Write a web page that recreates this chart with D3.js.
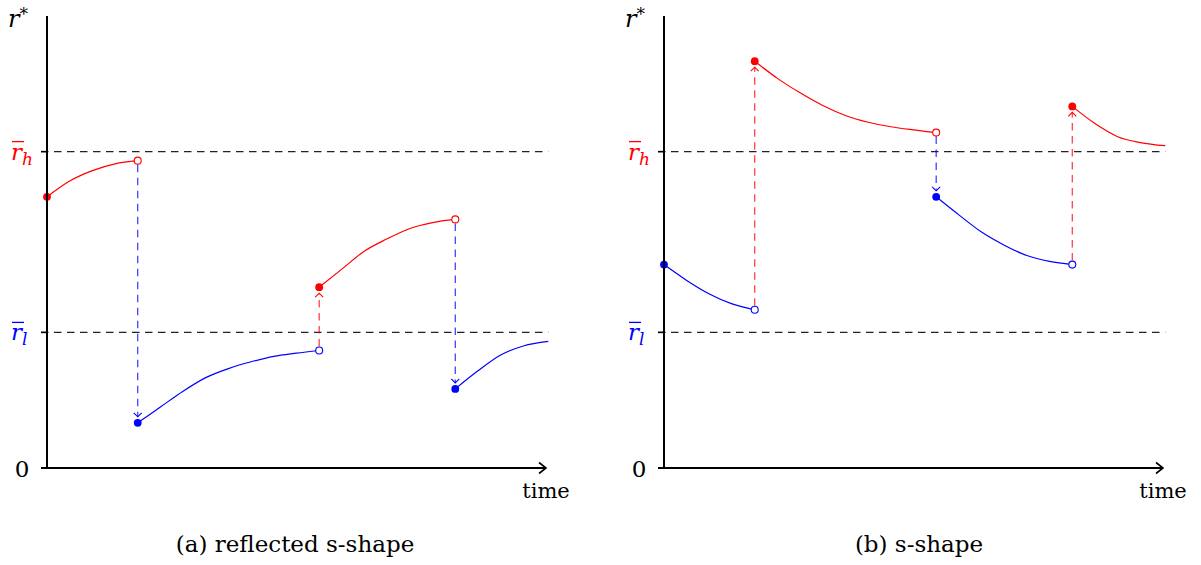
<!DOCTYPE html>
<html><head><meta charset="utf-8">
<script src="https://cdn.jsdelivr.net/npm/d3@7"></script>
<style>
body{margin:0;background:#fff}
</style>
</head><body><svg id="c" width="1201" height="565" style="font-family:'DejaVu Serif','Liberation Serif',serif"></svg>
<script>
// ---- data ----
const timeDomain = [0, 11];
const rDomain = [0, 10];
const thresholdValues = [7, 3];
const thresholdSubs = ['h', 'l'];
const thresholdColors = ['red', 'blue'];
const captions = ['(a) reflected s-shape', '(b) s-shape'];

// panel (a): reflected s-shape
const aRed1  = [[0,6],[0.5,6.35],[1,6.58],[1.5,6.73],[2,6.8]];
const aBlue1 = [[2,1],[2.5,1.35],[3,1.7],[3.5,2.0],[4,2.2],[4.5,2.35],[5,2.47],[5.5,2.54],[6,2.6]];
const aRed2  = [[6,4],[6.5,4.4],[7,4.8],[7.5,5.07],[8,5.3],[8.5,5.43],[9,5.5]];
const aBlue2 = [[9,1.75],[9.5,2.15],[10,2.5],[10.5,2.7],[11.05,2.8]];
const aColors = ['red','blue','red','blue'];
const aJumpT    = [2, 6, 9];
const aJumpFrom = [6.8, 2.6, 5.5];
const aJumpTo   = [1, 4, 1.75];
const aJumpCol  = ['blue','red','blue'];

// panel (b): s-shape
const bBlue1 = [[0,4.5],[0.5,4.15],[1,3.85],[1.5,3.63],[2,3.5]];
const bRed1  = [[2,9],[2.5,8.62],[3,8.3],[3.5,8.02],[4,7.8],[4.5,7.65],[5,7.55],[5.5,7.48],[6,7.42]];
const bBlue2 = [[6,6],[6.5,5.6],[7,5.22],[7.5,4.93],[8,4.7],[8.5,4.57],[9,4.5]];
const bRed2  = [[9,8],[9.5,7.62],[10,7.33],[10.5,7.2],[11.05,7.13]];
const bColors = ['blue','red','blue','red'];
const bJumpT    = [2, 6, 9];
const bJumpFrom = [3.5, 7.42, 4.5];
const bJumpTo   = [9, 6, 8];
const bJumpCol  = ['red','blue','red'];

// ---- drawing ----
const svg = d3.select('#c');
const y = d3.scaleLinear().domain(rDomain).range([468, 16]);
const SERIF = "'DejaVu Serif','Liberation Serif',serif";

function panel(x0, segs, colors, jT, jFrom, jTo, jCol, caption, capX) {
  const x = d3.scaleLinear().domain(timeDomain).range([x0, x0 + 499]);
  const g = svg.append('g').attr('font-family', SERIF);
  const line = d3.line().x(d => x(d[0])).y(d => y(d[1])).curve(d3.curveMonotoneX);

  // threshold dashed lines
  thresholdValues.forEach((v, i) => {
    g.append('line').attr('x1', x(0) - 6).attr('x2', x(11.05))
      .attr('y1', y(v)).attr('y2', y(v))
      .attr('stroke', '#222').attr('stroke-width', 1.3).attr('stroke-dasharray', '7.5,5.5');
    g.append('line').attr('x1', x(0) - 6).attr('x2', x(0))
      .attr('y1', y(v)).attr('y2', y(v)).attr('stroke', '#000').attr('stroke-width', 1.5);
    const lx = x(0) - 36, ly = y(v) + 8;
    const t = g.append('text').attr('x', lx).attr('y', ly)
      .attr('font-size', 23).attr('fill', thresholdColors[i]);
    t.append('tspan').attr('font-style', 'italic').text('r');
    t.append('tspan').attr('font-style', 'italic').attr('font-size', 17).attr('dy', 5).text(thresholdSubs[i]);
    g.append('line').attr('x1', lx + 1).attr('x2', lx + 13)
      .attr('y1', ly - 18).attr('y2', ly - 18)
      .attr('stroke', thresholdColors[i]).attr('stroke-width', 1.3);
  });

  // curves
  segs.forEach((s, i) => {
    g.append('path').attr('d', line(s)).attr('fill', 'none')
      .attr('stroke', colors[i]).attr('stroke-width', 1.2);
  });

  // jumps
  jT.forEach((t, i) => {
    const px = x(t), y1 = y(jFrom[i]), y2 = y(jTo[i]);
    const dir = y2 > y1 ? 1 : -1;
    const tip = y2 - dir * 6;
    g.append('line').attr('x1', px).attr('x2', px)
      .attr('y1', y1 + dir * 4).attr('y2', tip)
      .attr('stroke', jCol[i]).attr('stroke-width', 1.2).attr('stroke-opacity', 0.8)
      .attr('stroke-dasharray', '7.5,5.5');
    g.append('path').attr('d', `M${px-4},${tip - dir*4}L${px},${tip}L${px+4},${tip - dir*4}`)
      .attr('fill', 'none').attr('stroke', jCol[i]).attr('stroke-width', 1.1);
  });

  // markers
  segs.forEach((s, i) => {
    g.append('circle').attr('cx', x(s[0][0])).attr('cy', y(s[0][1])).attr('r', 3.9)
      .attr('fill', colors[i]);
    if (i < segs.length - 1) {
      const e = s[s.length - 1];
      g.append('circle').attr('cx', x(e[0])).attr('cy', y(e[1])).attr('r', 3.5)
        .attr('fill', '#fff').attr('stroke', colors[i]).attr('stroke-width', 1.1);
    }
  });

  // axes
  g.append('line').attr('x1', x(0)).attr('x2', x(0)).attr('y1', y(0) + 1).attr('y2', y(10))
    .attr('stroke', '#000').attr('stroke-width', 2);
  g.append('line').attr('x1', x(0) - 6).attr('x2', x(11) - 1).attr('y1', y(0)).attr('y2', y(0))
    .attr('stroke', '#000').attr('stroke-width', 2);
  g.append('path').attr('d', `M${x(11)-7},${y(0)-5.5}L${x(11)},${y(0)}L${x(11)-7},${y(0)+5.5}`)
    .attr('fill', 'none').attr('stroke', '#000').attr('stroke-width', 1.6);

  // labels
  g.append('text').attr('x', x(0) - 25).attr('y', y(0) + 9).attr('font-size', 23)
    .attr('text-anchor', 'middle').text('0');
  const rs = g.append('text').attr('x', x(0) - 39).attr('y', 27).attr('font-size', 24);
  rs.append('tspan').attr('font-style', 'italic').text('r');
  rs.append('tspan').attr('font-size', 17).attr('dy', -7).text('*');
  g.append('text').attr('x', x(11)).attr('y', 498).attr('font-size', 21)
    .attr('text-anchor', 'middle').text('time');
  g.append('text').attr('x', capX).attr('y', 552).attr('font-size', 23)
    .attr('text-anchor', 'middle').text(caption);
}

panel(47, [aRed1, aBlue1, aRed2, aBlue2], aColors, aJumpT, aJumpFrom, aJumpTo, aJumpCol, captions[0], 295);
panel(664, [bBlue1, bRed1, bBlue2, bRed2], bColors, bJumpT, bJumpFrom, bJumpTo, bJumpCol, captions[1], 919);
</script>
</body></html>
